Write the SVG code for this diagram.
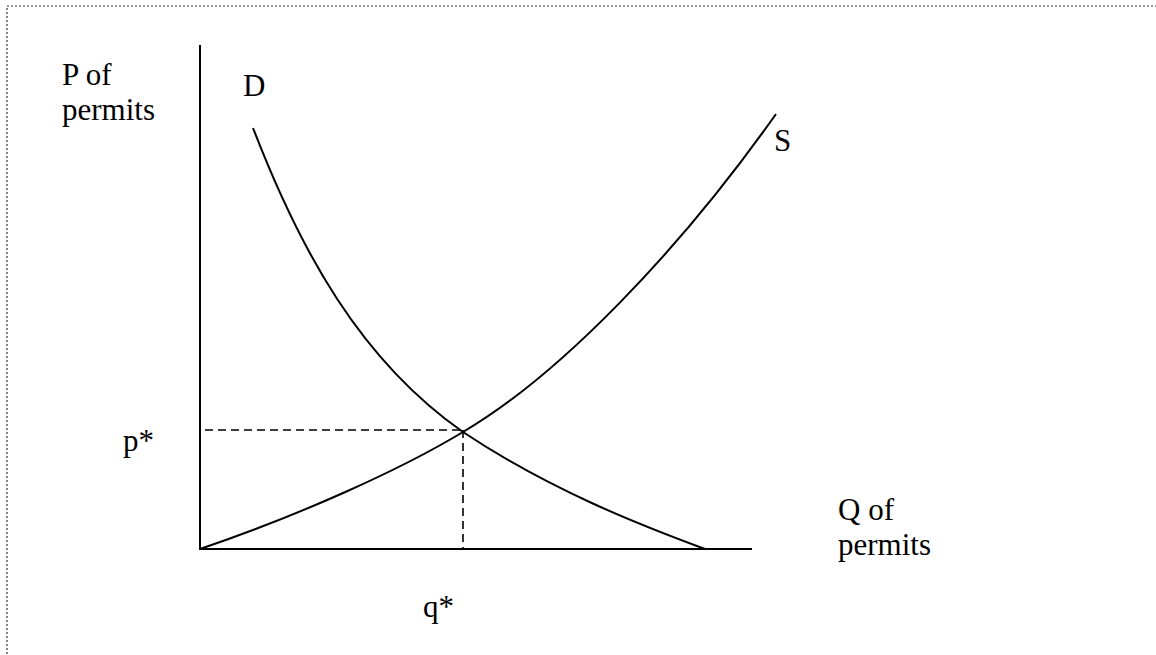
<svg xmlns="http://www.w3.org/2000/svg" width="1156" height="655" viewBox="0 0 1156 655">
<style>
.t{font-family:"Liberation Serif","Times New Roman",serif;font-size:31px;fill:#000}
.ax{stroke:#000;stroke-width:2;fill:none}
.cv{stroke:#000;stroke-width:2;fill:none}
.ds{stroke:#000;stroke-width:1.6;stroke-dasharray:8 5;fill:none}
</style>
<rect width="1156" height="655" fill="#fff"/>
<rect x="7" y="6" width="1170" height="670" fill="none" stroke="#333" stroke-width="1.2" stroke-dasharray="2 2"/>
<g id="axes">
<line class="ax" x1="200" y1="45" x2="200" y2="550"/>
<line class="ax" x1="199" y1="549" x2="752" y2="549"/>
</g>
<g id="connectors">
<path id="demand" class="cv" d="M253,128 C300,250 360,360 463,432 C550,490 640,525 705,549"/>
<path id="supply" class="cv" d="M200,549 C300,515 400,470 463,432 C560,375 680,250 776,114"/>
<line class="ds" x1="205" y1="430" x2="463" y2="430"/>
<line class="ds" x1="463" y1="430" x2="463" y2="549"/>
</g>
<g id="label-P"><text class="t" x="62" y="85">P of</text><text class="t" x="62" y="120">permits</text></g>
<g id="label-D"><text class="t" x="243" y="96">D</text></g>
<g id="label-S"><text class="t" x="774" y="151">S</text></g>
<g id="label-pstar"><text class="t" x="123" y="451">p*</text></g>
<g id="label-Q"><text class="t" x="838" y="520">Q of</text><text class="t" x="838" y="555">permits</text></g>
<g id="label-qstar"><text class="t" x="423" y="617">q*</text></g>
</svg>
